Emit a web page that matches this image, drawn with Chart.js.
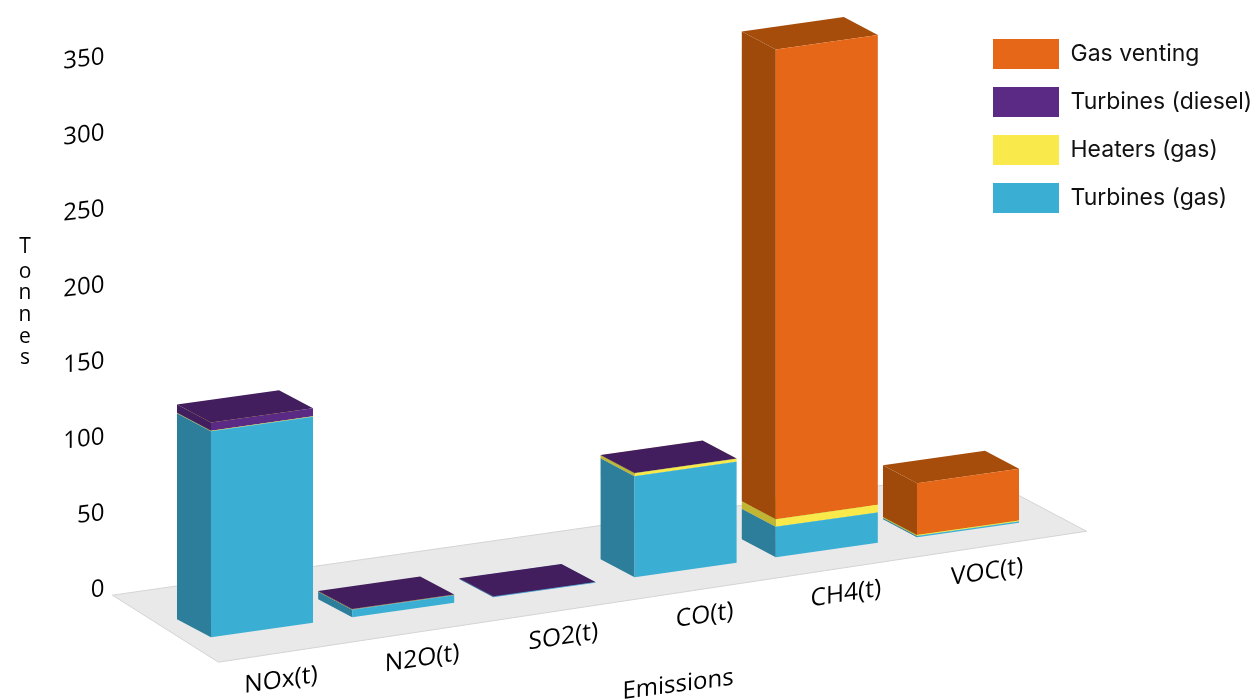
<!DOCTYPE html>
<html lang="en">
<head>
  <meta charset="UTF-8">
  <title>Emissions by source</title>
  <script src="https://cdn.jsdelivr.net/npm/chart.js"></script>
  <style>
    * { margin: 0; padding: 0; }
    body { background: #fff; }
    canvas { display: block; }
  </style>
</head>
<body>
  <canvas id="emissionsChart" width="1258" height="699"></canvas>
  <script>
    const categories = ['NOx(t)', 'N2O(t)', 'SO2(t)', 'CO(t)', 'CH4(t)', 'VOC(t)'];
    const turbinesGas = [135.5, 5, 0.3, 66.4, 20, 0.8];
    const heatersGas = [0.4, 0.1, 0, 2, 5, 0.7];
    const turbinesDiesel = [5.3, 0.3, 0.3, 0.2, 0, 0];
    const gasVenting = [0, 0, 0, 0, 309, 34];
    const yAxisTitle = 'Tonnes';
    const xAxisTitle = 'Emissions';

    const frontColors = ['#3BAED4', '#F9E94A', '#5A2A85', '#E56717'];
    const sideColors = ['#2C7E9B', '#C2B533', '#431E5E', '#9F4A0A'];
    const topColors = ['#3BAED4', '#F9E94A', '#431E5E', '#A64D0B'];

    // floor slope, and how far the box sides run back from the front face
    const SLOPE = 0.1416;
    const DEPTH_X = 34;
    const DEPTH_Y = 18;
    const LABEL_FONT = 'Open Sans';

    // y position on the tilted floor for an upright chart pixel
    function tilt(chart, x, y) {
      return y - SLOPE * (x - chart.chartArea.left);
    }

    function poly(ctx, color, pts) {
      ctx.fillStyle = color;
      ctx.beginPath();
      pts.forEach((p, i) => i ? ctx.lineTo(p[0], p[1]) : ctx.moveTo(p[0], p[1]));
      ctx.closePath();
      ctx.fill();
    }

    function drawFloor(chart) {
      const ctx = chart.ctx;
      const area = chart.chartArea;
      const zero = chart.scales.y.getPixelForValue(0);
      const corner = (x, dy) => [x, tilt(chart, x, zero) + dy];
      const pts = [
        corner(area.left - 79, -56),
        corner(area.left + 27, 26),
        corner(area.right + 48, 18),
        corner(area.right - 64, -57)
      ];
      poly(ctx, '#E9E9E9', pts);
      ctx.strokeStyle = '#D4D4D4';
      ctx.lineWidth = 1;
      ctx.stroke();
    }

    // the left side and top of every stacked segment, lowest segment first
    function drawBoxSides(chart) {
      const ctx = chart.ctx;
      chart.data.datasets.forEach((ds, d) => {
        chart.getDatasetMeta(d).data.forEach((bar, i) => {
          if (!ds.data[i]) return;
          const left = bar.x - bar.width / 2;
          const right = bar.x + bar.width / 2;
          const topL = tilt(chart, left, bar.y);
          const topR = tilt(chart, right, bar.y);
          const baseL = tilt(chart, left, bar.base);
          poly(ctx, sideColors[d], [
            [left, baseL], [left, topL],
            [left - DEPTH_X, topL - DEPTH_Y], [left - DEPTH_X, baseL - DEPTH_Y]
          ]);
          poly(ctx, topColors[d], [
            [left, topL], [right, topR],
            [right - DEPTH_X, topR - DEPTH_Y], [left - DEPTH_X, topL - DEPTH_Y]
          ]);
        });
      });
    }

    const boxPlugin = {
      id: 'boxes',
      afterLayout(chart) {
        // legend floats in the top right corner instead of taking up layout space
        const legend = chart.legend;
        legend.left = 975;
        legend.top = 21;
        legend.right = 1258;
        legend.bottom = 260;
      },
      beforeDraw(chart) {
        drawFloor(chart);
      },
      beforeDatasetsDraw(chart) {
        drawBoxSides(chart);
        const ctx = chart.ctx;
        ctx.save();
        ctx.transform(1, -SLOPE, 0, 1, 0, SLOPE * chart.chartArea.left);
      },
      afterDatasetsDraw(chart) {
        chart.ctx.restore();
      },
      afterDraw(chart) {
        const ctx = chart.ctx;
        ctx.save();
        ctx.fillStyle = '#000';
        ctx.textAlign = 'center';
        ctx.textBaseline = 'middle';
        ctx.font = '21px "' + LABEL_FONT + '"';
        // upright letters stacked down the left edge
        const letterY = [247, 272, 293, 315, 337, 358];
        yAxisTitle.split('').forEach((ch, i) => ctx.fillText(ch, 25, letterY[i]));
        ctx.font = '24px "' + LABEL_FONT + '"';
        ctx.transform(1, -0.13, 0, 1, 0, 0.13 * 677);
        ctx.fillText(xAxisTitle, 678, 685);
        ctx.restore();
      }
    };

    // keep the library's tick labels but draw them through a shear
    function shearLabels(scale, skew, pivotX, shiftX, shiftY) {
      const base = Object.getPrototypeOf(scale).drawLabels;
      scale.drawLabels = function(area) {
        const ctx = scale.ctx;
        ctx.save();
        ctx.transform(1, -skew, 0, 1, shiftX, skew * pivotX + shiftY);
        base.call(scale, area);
        ctx.restore();
      };
    }

    const series = [
      ['Turbines (gas)', turbinesGas],
      ['Heaters (gas)', heatersGas],
      ['Turbines (diesel)', turbinesDiesel],
      ['Gas venting', gasVenting]
    ];

    new Chart(document.getElementById('emissionsChart'), {
      type: 'bar',
      data: {
        labels: categories,
        datasets: series.map((s, i) => ({
          label: s[0],
          data: s[1],
          backgroundColor: frontColors[i],
          borderWidth: 0,
          inflateAmount: 0,
          clip: false,
          barPercentage: 1,
          categoryPercentage: 0.7225
        }))
      },
      options: {
        responsive: false,
        animation: false,
        events: [],
        layout: { padding: { top: 108, right: 219.4 } },
        plugins: {
          tooltip: { enabled: false },
          legend: {
            position: 'chartArea',
            align: 'start',
            reverse: true,
            labels: {
              boxWidth: 66,
              boxHeight: 30,
              padding: 18,
              color: '#111',
              font: { family: 'Inter', size: 23 }
            }
          }
        },
        scales: {
          x: {
            stacked: true,
            grid: { display: false, drawTicks: false },
            border: { display: false },
            ticks: {
              color: '#000',
              padding: 29.6,
              autoSkip: false,
              maxRotation: 0,
              font: { family: LABEL_FONT, size: 24.5 }
            },
            afterFit: s => { s.height = 59; },
            afterUpdate: s => shearLabels(s, 0.153, 191, 19, 7)
          },
          y: {
            stacked: true,
            min: 0,
            max: 350,
            grid: { display: false, drawTicks: false },
            border: { display: false },
            ticks: {
              color: '#000',
              stepSize: 50,
              padding: 0,
              font: { family: LABEL_FONT, size: 24 }
            },
            afterFit: s => { s.width = 191.4; },
            afterUpdate: s => shearLabels(s, 0.12, 191, -87, -51)
          }
        }
      },
      plugins: [boxPlugin]
    });
  </script>
</body>
</html>
